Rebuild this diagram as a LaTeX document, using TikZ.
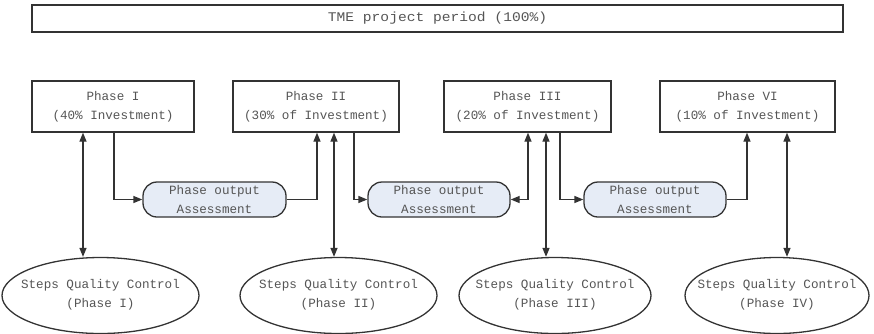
\documentclass[tikz,border=0pt]{standalone}
\usepackage{fontspec}
\setmainfont{Liberation Mono}
\usetikzlibrary{shapes.geometric,arrows.meta}
\definecolor{txtgray}{HTML}{555555}
\definecolor{linegray}{HTML}{333333}
\definecolor{assfill}{HTML}{E6ECF6}
\tikzset{
  base/.style={draw=linegray, line width=1.3pt, text=txtgray, align=center,
    font=\fontsize{12.6}{18.5}\selectfont, inner sep=0pt},
  phasebox/.style={base, rectangle, minimum height=51pt},
  assbox/.style={base, rectangle, rounded corners=14pt, fill=assfill, minimum width=142pt, minimum height=35pt},
  qcell/.style={draw=linegray, line width=1.3pt, ellipse, inner sep=0pt, minimum width=196pt, minimum height=76pt},
  qtext/.style={text=txtgray, align=center, font=\fontsize{12.6}{18.5}\selectfont, inner sep=0pt},
  conn/.style={draw=linegray, line width=1.3pt, -{Triangle[length=9pt,width=7pt]}},
  dconn/.style={draw=linegray, line width=1.3pt, {Triangle[length=9pt,width=7pt]}-{Triangle[length=9pt,width=7pt]}}
}
\begin{document}
\begin{tikzpicture}[x=1pt,y=1pt]
\useasboundingbox (0,0) rectangle (874,-333);
\node[base, rectangle, minimum width=811pt, minimum height=27pt,
  font=\fontsize{12.6}{15}\selectfont] (top) at (437.5,-18.5)
  {\scalebox{1.16}[1.05]{TME project period (100\%)}};
\node[phasebox, minimum width=162pt] (p1) at (113,-106.5) {Phase I\\(40\% Investment)};
\node[phasebox, minimum width=166pt] (p2) at (316,-106.5) {Phase II\\(30\% of Investment)};
\node[phasebox, minimum width=167pt] (p3) at (527.5,-106.5) {Phase III\\(20\% of Investment)};
\node[phasebox, minimum width=175pt] (p4) at (747.5,-106.5) {Phase VI\\(10\% of Investment)};
\node[assbox, minimum width=143pt] (a1) at (214.5,-199.5) {Phase output\\Assessment};
\node[assbox] (a2) at (439,-199.5) {Phase output\\Assessment};
\node[assbox] (a3) at (655,-199.5) {Phase output\\Assessment};
\node[qcell, minimum width=197pt] (e1) at (100.5,-295.5) {};
\node[qcell, minimum width=197pt] (e2) at (338.5,-295.5) {};
\node[qcell, minimum width=192pt] (e3) at (555,-295.5) {};
\node[qcell, minimum width=184pt] (e4) at (777,-295.5) {};
\node[qtext] (e1t) at ([yshift=1pt]e1.center) {Steps Quality Control\\(Phase I)};
\node[qtext] (e2t) at ([yshift=1pt]e2.center) {Steps Quality Control\\(Phase II)};
\node[qtext] (e3t) at ([yshift=1pt]e3.center) {Steps Quality Control\\(Phase III)};
\node[qtext] (e4t) at ([yshift=1pt]e4.center) {Steps Quality Control\\(Phase IV)};
% x positions of connectors
\coordinate (v1) at (83,0);
\coordinate (o1) at (114,0);
\coordinate (i2) at (317,0);
\coordinate (v2) at (334,0);
\coordinate (o2) at (354,0);
\coordinate (i3) at (528,0);
\coordinate (v3) at (546,0);
\coordinate (o3) at (560,0);
\coordinate (i4) at (747,0);
\coordinate (v4) at (787,0);
% quality control links
\draw[dconn] (p1.south -| v1) -- (e1.north -| v1);
\draw[dconn] (p2.south -| v2) -- (e2.north -| v2);
\draw[dconn] (p3.south -| v3) -- (e3.north -| v3);
\draw[dconn] (p4.south -| v4) -- (e4.north -| v4);
% phase to assessment
\draw[conn] (p1.south -| o1) |- (a1.west);
\draw[conn] (a1.east) -| (p2.south -| i2);
\draw[conn] (p2.south -| o2) |- (a2.west);
\draw[dconn] (a2.east) -| (p3.south -| i3);
\draw[conn] (p3.south -| o3) |- (a3.west);
\draw[conn] (a3.east) -| (p4.south -| i4);
\end{tikzpicture}
\end{document}
